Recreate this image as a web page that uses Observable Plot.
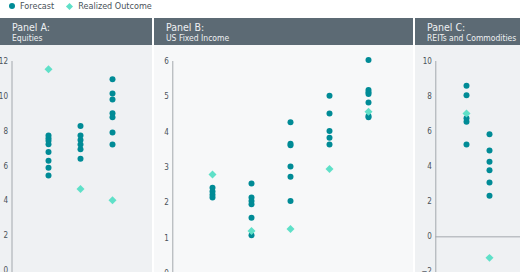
<!DOCTYPE html>
<html><head><meta charset="utf-8">
<script src="https://cdn.jsdelivr.net/npm/d3@7"></script>
<script src="https://cdn.jsdelivr.net/npm/@observablehq/plot@0.6"></script>
<style>
html,body{margin:0;padding:0;width:520px;height:272px;overflow:hidden;background:#fff;}
body{font-family:"Liberation Sans Narrow","DejaVu Sans Condensed","Roboto",sans-serif;font-stretch:condensed;}
.legend{position:absolute;left:9px;top:0;height:12px;font-size:9px;color:#4a5259;display:flex;align-items:center;}
.legend span{display:inline-flex;align-items:center;margin-right:11px;}
.dot{width:6px;height:6px;border-radius:50%;background:#008b96;margin-right:5px;}
.dia{width:5px;height:5px;background:#5fe0c8;transform:rotate(45deg);margin-right:6px;margin-left:2px;}
.panel{position:absolute;top:18px;height:254px;}
.head{height:27px;background:#5c6a74;color:#eef0f2;padding-left:12px;box-sizing:border-box;}
.head .t{font-size:10.5px;padding-top:3px;line-height:12px;}
.head .s{font-size:8.5px;line-height:10px;}
.panel svg{display:block;}
</style></head>
<body>
<div class="legend"><span><i class="dot"></i>Forecast</span><span><i class="dia"></i>Realized Outcome</span></div>
<div id="pA" class="panel" style="left:0;width:152px;background:#eff1f3"><div class="head"><div class="t">Panel A:</div><div class="s">Equities</div></div></div>
<div id="pB" class="panel" style="left:154px;width:259px;background:#f7f8f9"><div class="head"><div class="t">Panel B:</div><div class="s">US Fixed Income</div></div></div>
<div id="pC" class="panel" style="left:415px;width:105px;background:#eff1f3"><div class="head"><div class="t">Panel C:</div><div class="s">REITs and Commodities</div></div></div>
<script>
// Panel A: Equities (3 groups)
const aGroups = ["A1","A2","A3"];
const aForecast = [
  [7.75, 7.6, 7.45, 7.25, 6.8, 6.3, 5.9, 5.45],
  [8.3, 7.75, 7.5, 7.23, 6.96, 6.41],
  [10.98, 10.16, 9.82, 9.03, 8.8, 7.92, 7.23]
];
const aRealized = [11.55, 4.68, 4.03];
const aTicks = [0, 2, 4, 6, 8, 10, 12];

// Panel B: US Fixed Income (5 groups)
const bGroups = ["B1","B2","B3","B4","B5"];
const bForecast = [
  [2.43, 2.32, 2.23, 2.15],
  [2.55, 2.15, 2.05, 1.96, 1.58, 1.08],
  [4.28, 3.67, 3.63, 3.03, 2.74, 2.05],
  [5.03, 4.53, 4.03, 3.84, 3.65],
  [6.04, 5.19, 5.13, 5.08, 4.84, 4.46, 4.42]
];
const bRealized = [2.8, 1.2, 1.26, 2.96, 4.58];
const bTicks = [0, 1, 2, 3, 4, 5, 6];

// Panel C: REITs and Commodities (2 groups)
const cGroups = ["C1","C2"];
const cForecast = [
  [8.61, 8.08, 6.77, 6.56, 5.27],
  [5.85, 4.92, 4.28, 3.8, 3.1, 2.34]
];
const cRealized = [7.03, -1.2];
const cTicks = [-2, 0, 2, 4, 6, 8, 10];

const FONT = '"Liberation Sans Narrow","DejaVu Sans Condensed",sans-serif';

function panel(el, opts) {
  const {groups, forecast, realized, ticks, width, left, xRange, yDomain, yRange, zero} = opts;
  const fc = forecast.flatMap((vals, i) => vals.map(v => ({g: groups[i], v})));
  const rl = realized.map((v, i) => ({g: groups[i], v}));
  const marks = [
    Plot.frame({anchor: "left", stroke: "#a3a8ad", strokeOpacity: 1}),
    Plot.axisY({ticks, tickFormat: "d", tickSize: 0, tickPadding: 4, label: null, fill: "#4a5259", fontSize: 8})
  ];
  if (zero) marks.push(Plot.ruleY([0], {stroke: "#a3a8ad"}));
  marks.push(
    Plot.dot(fc, {x: "g", y: "v", r: 3, fill: "#008b96", stroke: "none"}),
    Plot.dot(rl, {x: "g", y: "v", r: 3.6, symbol: "diamond2", fill: "#5fe0c8", stroke: "none"})
  );
  const p = Plot.plot({
    width, height: 227,
    marginLeft: left, marginRight: 0, marginTop: 16, marginBottom: 0,
    style: {background: "transparent", fontFamily: FONT, overflow: "visible"},
    x: {type: "point", domain: groups, range: xRange, axis: null},
    y: {domain: yDomain, range: yRange, axis: null},
    marks
  });
  document.getElementById(el).appendChild(p);
}

panel("pA", {groups: aGroups, forecast: aForecast, realized: aRealized, ticks: aTicks,
  width: 152, left: 11.5, xRange: [31.3, 127.7], yDomain: [0, 12], yRange: [225, 16]});
panel("pB", {groups: bGroups, forecast: bForecast, realized: bRealized, ticks: bTicks,
  width: 259, left: 18.3, xRange: [36.3, 235], yDomain: [0, 6], yRange: [228, 16]});
panel("pC", {groups: cGroups, forecast: cForecast, realized: cRealized, ticks: cTicks,
  width: 105, left: 20.3, xRange: [39, 85], yDomain: [-2, 10], yRange: [226.4, 16], zero: true});
</script>
</body></html>
